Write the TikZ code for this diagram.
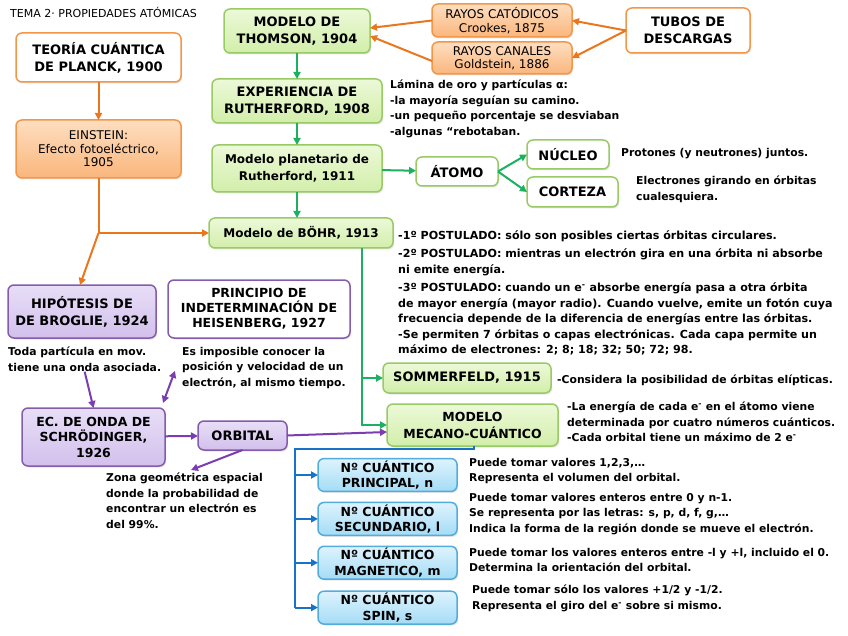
\documentclass[tikz,border=0pt]{standalone}
\usepackage{fontspec}
\setmainfont{DejaVu Sans}
\usetikzlibrary{arrows.meta, positioning, shadows}

\definecolor{orangeline}{RGB}{234,118,30}
\definecolor{orangeborder}{RGB}{243,150,72}
\definecolor{orangetop}{RGB}{254,222,192}
\definecolor{orangebottom}{RGB}{250,182,124}
\definecolor{greenline}{RGB}{28,176,96}
\definecolor{greenborder}{RGB}{152,202,102}
\definecolor{greentop}{RGB}{236,249,216}
\definecolor{greenbottom}{RGB}{210,238,170}
\definecolor{purpleline}{RGB}{122,62,176}
\definecolor{purpleborder}{RGB}{132,92,172}
\definecolor{purpletop}{RGB}{232,222,247}
\definecolor{purplebottom}{RGB}{210,192,236}
\definecolor{blueline}{RGB}{24,114,200}
\definecolor{blueborder}{RGB}{84,172,222}
\definecolor{bluetop}{RGB}{222,243,253}
\definecolor{bluebottom}{RGB}{164,220,246}

\tikzset{
  box/.style={rectangle, rounded corners=6pt, line width=1.5pt, align=center, inner sep=2pt, outer sep=0pt,
    drop shadow={opacity=0.2, shadow xshift=1.2pt, shadow yshift=-1.5pt}},
  head/.style={font=\bfseries\fontsize{13}{17}\selectfont},
  obox/.style={box, draw=orangeborder, top color=orangetop, bottom color=orangebottom, font=\fontsize{12}{13.5}\selectfont},
  owhite/.style={box, head, draw=orangeborder, fill=white},
  gbox/.style={box, head, draw=greenborder, top color=greentop, bottom color=greenbottom},
  gwhite/.style={box, head, draw=greenborder, fill=white},
  pbox/.style={box, head, draw=purpleborder, top color=purpletop, bottom color=purplebottom},
  pwhite/.style={box, head, draw=purpleborder, fill=white, font=\bfseries\fontsize{12.5}{15}\selectfont},
  qbox/.style={box, draw=blueborder, top color=bluetop, bottom color=bluebottom, minimum width=139pt, minimum height=32pt,
    font=\bfseries\fontsize{12.5}{15.5}\selectfont},
  note/.style={anchor=north west, inner sep=0pt, align=left, font=\bfseries\fontsize{10.8}{15.5}\selectfont},
  oflow/.style={-{Triangle[length=7pt,width=7pt]}, line width=2pt, draw=orangeline},
  gflow/.style={-{Triangle[length=7pt,width=7pt]}, line width=2pt, draw=greenline},
  pflow/.style={-{Triangle[length=7pt,width=7pt]}, line width=2pt, draw=purpleline},
  bflow/.style={-{Triangle[length=7pt,width=7pt]}, line width=2pt, draw=blueline},
}

\begin{document}
\begin{tikzpicture}[x=1pt, y=-1pt]
  \useasboundingbox (0,0) rectangle (848,636);

  \node[anchor=west, inner sep=0pt, font=\fontsize{11}{12}\selectfont] (title) at (10,12) {TEMA 2· PROPIEDADES ATÓMICAS};

  % orange column
  \node[owhite, minimum width=165pt, minimum height=49pt] (planck) at (98.5,57.5) {TEORÍA CUÁNTICA\\DE PLANCK, 1900};
  \node[obox, minimum width=165pt, minimum height=58pt, below=38pt of planck] (einstein) {EINSTEIN:\\Efecto fotoeléctrico,\\1905};

  % green column
  \node[gbox, minimum width=146pt, minimum height=44pt] (thomson) at (297,31) {MODELO DE\\THOMSON, 1904};
  \node[gbox, minimum width=170pt, minimum height=44pt, below=26pt of thomson] (ruth08) {EXPERIENCIA DE\\RUTHERFORD, 1908};
  \node[gbox, minimum width=170pt, minimum height=47pt, below=22pt of ruth08, font=\bfseries\fontsize{12}{17}\selectfont] (ruth11) {Modelo planetario de\\Rutherford, 1911};
  \node[gbox, minimum width=184pt, minimum height=30pt, below=26pt of ruth11, xshift=4pt, font=\bfseries\fontsize{12}{17}\selectfont] (bohr) {Modelo de BÖHR, 1913};

  \node[obox, minimum width=140pt, minimum height=33pt] (catodicos) at (502,20.5) {RAYOS CATÓDICOS\\Crookes, 1875};
  \node[obox, minimum width=140pt, minimum height=32pt, below=5pt of catodicos] (canales) {RAYOS CANALES\\Goldstein, 1886};
  \node[owhite, minimum width=124pt, minimum height=45pt] (tubos) at (688,30.5) {TUBOS DE\\DESCARGAS};

  \node[note] (lamina) at (390,80) {Lámina de oro y partículas α:\\-la mayoría seguían su camino.\\-un pequeño porcentaje se desviaban\\-algunas “rebotaban.};

  \node[gwhite, minimum width=82pt, minimum height=29pt] (atomo) at (457,171.5) {ÁTOMO};
  \node[gwhite, minimum width=82pt, minimum height=29pt] (nucleo) at (568,154.5) {NÚCLEO};
  \node[gwhite, minimum width=91pt, minimum height=30pt] (corteza) at (572.5,192) {CORTEZA};
  \node[note, anchor=west] (protones) at (621,154) {Protones (y neutrones) juntos.};
  \node[note] (electrones) at (636,176) {Electrones girando en órbitas\\cualesquiera.};

  \node[note, font=\bfseries\fontsize{11.1}{15.5}\selectfont] (postulados) at (398,230) {-1º POSTULADO: sólo son posibles ciertas órbitas circulares.\\[3pt]
    -2º POSTULADO: mientras un electrón gira en una órbita ni absorbe\\ni emite energía.\\[3pt]
    -3º POSTULADO: cuando un e\textsuperscript{-} absorbe energía pasa a otra órbita\\de mayor energía (mayor radio). Cuando vuelve, emite un fotón cuya\\frecuencia depende de la diferencia de energías entre las órbitas.\\
    -Se permiten 7 órbitas o capas electrónicas. Cada capa permite un\\máximo de electrones: 2; 8; 18; 32; 50; 72; 98.};

  \node[gbox, minimum width=168pt, minimum height=30pt] (sommer) at (467,378) {SOMMERFELD, 1915};
  \node[note, anchor=west] (considera) at (557,380) {-Considera la posibilidad de órbitas elípticas.};
  \node[gbox, minimum width=171pt, minimum height=42pt, font=\bfseries\fontsize{12.5}{17}\selectfont] (mecano) at (472.5,425) {MODELO\\MECANO-CUÁNTICO};
  \node[note] (energia) at (567,402) {-La energía de cada e\textsuperscript{-} en el átomo viene\\determinada por cuatro números cuánticos.\\-Cada orbital tiene un máximo de 2 e\textsuperscript{-}};

  % purple part
  \node[pbox, minimum width=148pt, minimum height=53pt] (broglie) at (82,311.5) {HIPÓTESIS DE\\DE BROGLIE, 1924};
  \node[pwhite, minimum width=182pt, minimum height=58pt] (heisen) at (259,309) {PRINCIPIO DE\\INDETERMINACIÓN DE\\HEISENBERG, 1927};
  \node[note] (toda) at (8,347) {Toda partícula en mov.\\tiene una onda asociada.};
  \node[note] (imposible) at (182,347) {Es imposible conocer la\\posición y velocidad de un\\electrón, al mismo tiempo.};
  \node[pbox, minimum width=143pt, minimum height=58pt, font=\bfseries\fontsize{12.5}{15.5}\selectfont] (schrod) at (93.5,437) {EC. DE ONDA DE\\SCHRÖDINGER,\\1926};
  \node[pbox, minimum width=89pt, minimum height=29pt] (orbital) at (242.5,435.5) {ORBITAL};
  \node[note] (zona) at (106,473) {Zona geométrica espacial\\donde la probabilidad de\\encontrar un electrón es\\del 99\%.};

  % blue part
  \node[qbox] (principal) at (387.5,475) {Nº CUÁNTICO\\PRINCIPAL, n};
  \node[qbox, below=11pt of principal] (secundario) {Nº CUÁNTICO\\SECUNDARIO, l};
  \node[qbox, below=11pt of secundario] (magnetico) {Nº CUÁNTICO\\MAGNETICO, m};
  \node[qbox, below=12pt of magnetico] (spin) {Nº CUÁNTICO\\SPIN, s};
  \node[note] (ptext) at (469,458) {Puede tomar valores 1,2,3,…\\Representa el volumen del orbital.};
  \node[note] (stext) at (469,493) {Puede tomar valores enteros entre 0 y n-1.\\Se representa por las letras: s, p, d, f, g,…\\Indica la forma de la región donde se mueve el electrón.};
  \node[note] (mtext) at (469,548) {Puede tomar los valores enteros entre -l y +l, incluido el 0.\\Determina la orientación del orbital.};
  \node[note] (sptext) at (472,585) {Puede tomar sólo los valores +1/2 y -1/2.\\Representa el giro del e\textsuperscript{-} sobre si mismo.};

  % connectors
  \coordinate (split) at (einstein.south |- bohr.west);
  \draw[oflow] (planck) -- (einstein);
  \draw[oflow, -] (einstein) -- (split);
  \draw[oflow] (split) -- (bohr.west);
  \draw[oflow] (split) -- ([xshift=-2pt]broglie.north);
  \draw[oflow] (tubos.west) -- (catodicos.east);
  \draw[oflow] (tubos.west) -- (canales.east);
  \draw[oflow] (catodicos.west) -- ([yshift=3pt]thomson.east);
  \draw[oflow] ([yshift=-3pt]canales.west) -- ([yshift=-5pt]thomson.east);

  \draw[gflow] (thomson) -- (ruth08);
  \draw[gflow] (ruth08) -- (ruth11);
  \draw[gflow] (ruth11) -- ([xshift=-4pt]bohr.north);
  \draw[gflow] (ruth11) -- (atomo);
  \draw[gflow] (atomo.east) -- (nucleo.west);
  \draw[gflow] (atomo.east) -- (corteza.west);
  \coordinate (gbus) at ([xshift=61pt]bohr.south);
  \draw[gflow] (gbus) |- (sommer.west);
  \draw[gflow] (gbus) |- (mecano.west);

  \draw[pflow] (toda.south) -- (schrod.north);
  \draw[pflow, {Triangle[length=7pt,width=7pt]}-{Triangle[length=7pt,width=7pt]}] ([xshift=-2pt,yshift=5pt]schrod.north east) -- ([xshift=-7pt,yshift=18pt]imposible.south west);
  \draw[pflow] (schrod) -- (orbital);
  \draw[pflow] (orbital.east) -- ([yshift=-7pt]mecano.west);
  \draw[pflow] (orbital.south) -- ([xshift=85pt,yshift=3pt]zona.north west);

  \coordinate (bbus) at (295,449);
  \draw[bflow, -] ([xshift=1.5pt]mecano.south) |- (bbus) -- (bbus |- spin.west);
  \draw[bflow] (bbus |- principal.west) -- (principal.west);
  \draw[bflow] (bbus |- secundario.west) -- (secundario.west);
  \draw[bflow] (bbus |- magnetico.west) -- (magnetico.west);
  \draw[bflow] (bbus |- spin.west) -- (spin.west);
\end{tikzpicture}
\end{document}
